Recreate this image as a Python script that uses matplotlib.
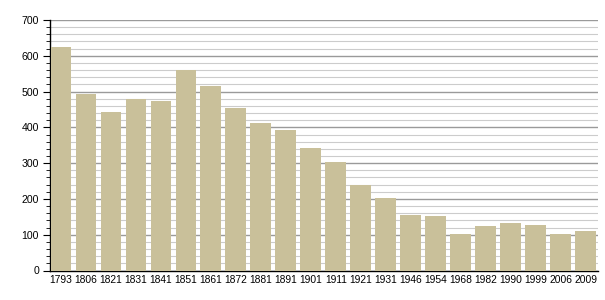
import matplotlib
matplotlib.use("Agg")
import matplotlib.pyplot as plt
from matplotlib.ticker import MultipleLocator

# population by census year
years = ['1793', '1806', '1821', '1831', '1841', '1851', '1861', '1872', '1881', '1891', '1901',
         '1911', '1921', '1931', '1946', '1954', '1968', '1982', '1990', '1999', '2006', '2009']
population = [625, 493, 443, 479, 474, 560, 516, 454, 412, 392, 342,
              302, 238, 202, 154, 151, 101, 123, 132, 126, 101, 110]

plt.rcParams['font.family'] = ['Liberation Sans', 'DejaVu Sans']

fig = plt.figure(figsize=(6.05, 3.0), dpi=100)
ax = fig.add_axes([50 / 605, 29.5 / 300, 548 / 605, 250.5 / 300])

x = range(len(years))
ax.bar(x, population, width=0.83, color='#c9c09a', zorder=3)

ax.set_xlim(-0.44, len(years) - 0.5)
ax.set_ylim(0, 700)
ax.set_xticks(list(x))
ax.set_xticklabels(years, fontsize=7.4)
ax.yaxis.set_major_locator(MultipleLocator(100))
ax.yaxis.set_minor_locator(MultipleLocator(20))
ax.tick_params(axis='y', which='major', length=5, labelsize=7.6, pad=3)
ax.tick_params(axis='y', which='minor', length=3)
ax.tick_params(axis='x', length=0, pad=3)

ax.grid(axis='y', which='major', color='#9a9a9a', linewidth=1.0, zorder=0)
ax.grid(axis='y', which='minor', color='#cccccc', linewidth=0.8, zorder=0)
ax.set_axisbelow(True)

for s in ['top', 'right']:
    ax.spines[s].set_visible(False)
ax.spines['left'].set_linewidth(1.0)
ax.spines['bottom'].set_linewidth(1.0)

fig.savefig('out.png', dpi=100)
